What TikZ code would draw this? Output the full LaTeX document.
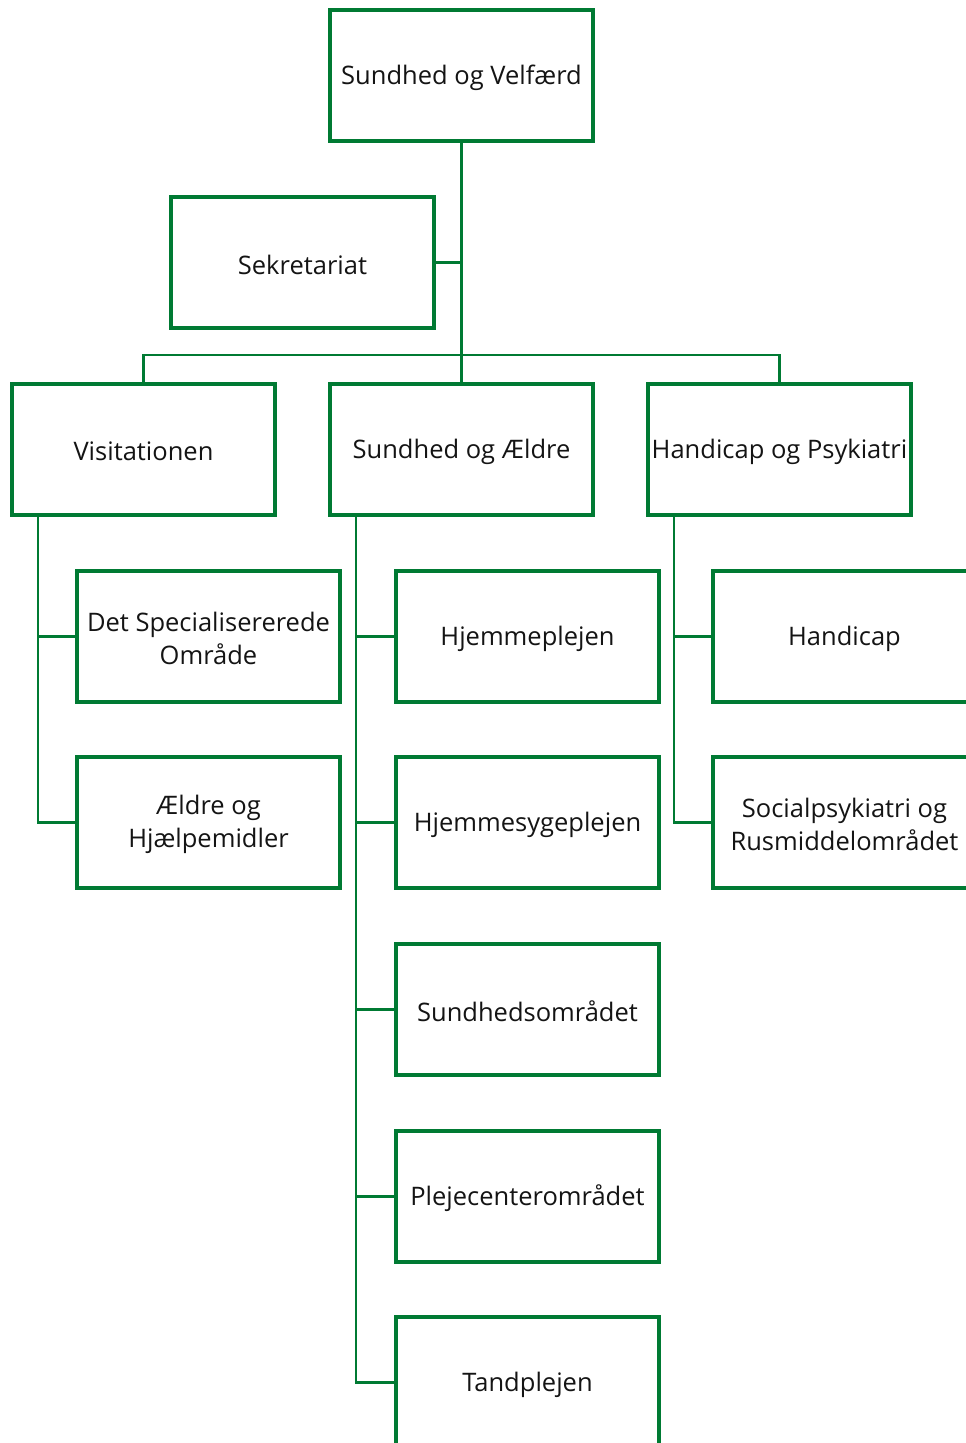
\documentclass[tikz,border=0pt]{standalone}
\usepackage{fontspec}
\setmainfont{Open Sans}
\definecolor{orggreen}{RGB}{0,122,51}
\begin{document}
\begin{tikzpicture}[x=1pt,y=-1pt,
  box/.style={draw=orggreen,line width=3.5pt,fill=white,minimum width=263pt,minimum height=131pt,
    inner sep=0pt,label={[inner sep=0pt,align=center,yshift=-2pt,font=\fontsize{25.5}{33}\selectfont,text=black!92]center:#1}},
  conn/.style={draw=orggreen,line width=2.5pt}]
\useasboundingbox (0,0) rectangle (966,1443);
\clip (0,0) rectangle (966,1443);
\fill[white] (0,0) rectangle (966,1443);
\coordinate (j1) at (461.5,355);
\coordinate (sekj) at (461.5,262.5);
\node[box={Sundhed og Velfærd}] (top) at (461.5,75.5) {};
\node[box={Sekretariat}] (sek) at (302.5,262.5) {};
\node[box={Visitationen}] (vis) at (143.5,449.5) {};
\node[box={Sundhed og Ældre}] (sae) at (461.5,449.5) {};
\node[box={Handicap og Psykiatri}] (hop) at (779.5,449.5) {};
\node[box={Det Specialisererede\\Område}] (dso) at (208.5,636.5) {};
\node[box={Ældre og\\Hjælpemidler}] (aeh) at (208.5,822.5) {};
\node[box={Hjemmeplejen}] (hjp) at (527.5,636.5) {};
\node[box={Hjemmesygeplejen}] (hjs) at (527.5,822.5) {};
\node[box={Sundhedsområdet}] (sun) at (527.5,1009.5) {};
\node[box={Plejecenterområdet}] (plc) at (527.5,1196.5) {};
\node[box={Tandplejen}] (tan) at (527.5,1382.5) {};
\node[box={Handicap}] (han) at (844.5,636.5) {};
\node[box={Socialpsykiatri og\\Rusmiddelområdet}] (soc) at (844.5,822.5) {};
\draw[conn] (top.south) -- (j1);
\draw[conn] (sek.east) -- (sekj);
\draw[conn] (vis.north) |- (j1) -| (hop.north);
\draw[conn] (j1) -- (sae.north);
% left column
\coordinate (lv) at (38,515);
\draw[conn] (vis.south -| lv) |- (aeh.west);
\draw[conn] (lv |- dso.west) -- (dso.west);
% middle column
\coordinate (mv) at (356,515);
\draw[conn] (sae.south -| mv) |- (tan.west);
\draw[conn] (mv |- hjp.west) -- (hjp.west);
\draw[conn] (mv |- hjs.west) -- (hjs.west);
\draw[conn] (mv |- sun.west) -- (sun.west);
\draw[conn] (mv |- plc.west) -- (plc.west);
% right column
\coordinate (rv) at (674,515);
\draw[conn] (hop.south -| rv) |- (soc.west);
\draw[conn] (rv |- han.west) -- (han.west);
\end{tikzpicture}
\end{document}
